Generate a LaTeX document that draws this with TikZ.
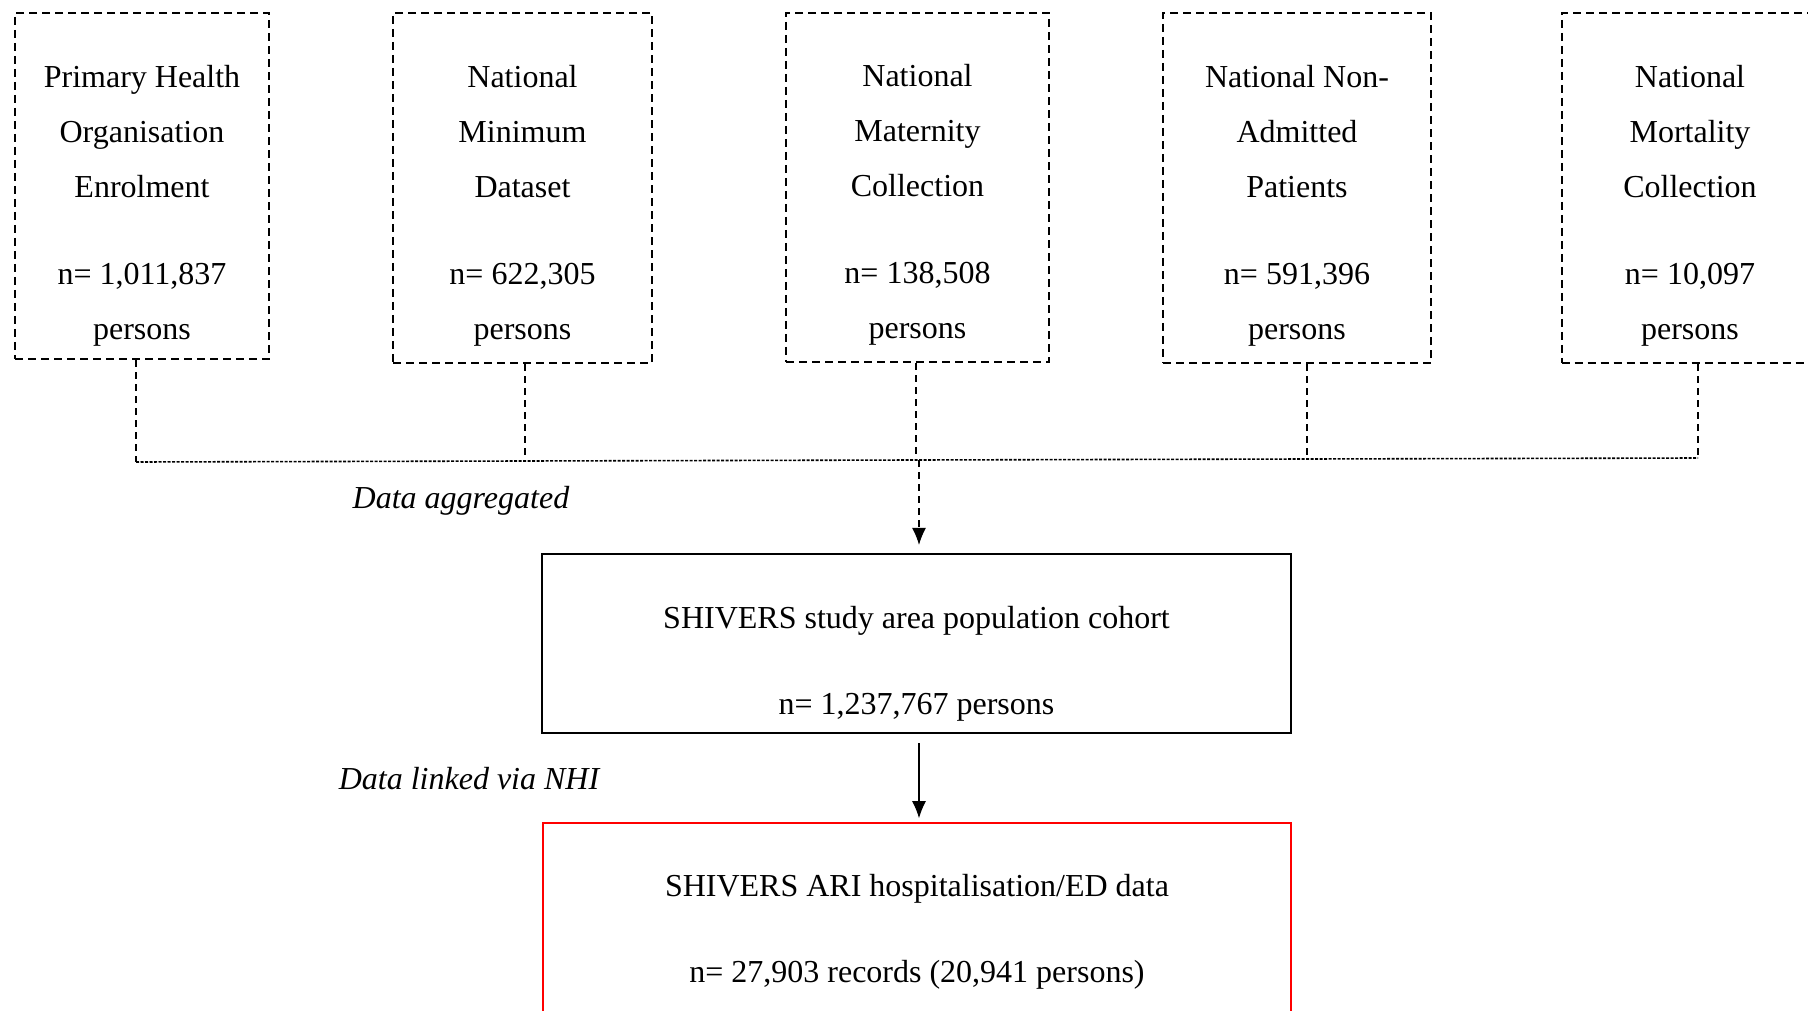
\documentclass[tikz,border=0pt]{standalone}
\usepackage{fontspec}
\setmainfont{Liberation Serif}
\usetikzlibrary{arrows.meta}
\begin{document}
\begin{tikzpicture}[x=1pt,y=-1pt,
  srcbox/.style={draw,line width=2pt,dash pattern=on 8pt off 5pt,rectangle,inner sep=0pt},
  txt/.style={align=center,font=\fontsize{32}{55}\selectfont,inner sep=0pt},
  lbl/.style={font=\fontsize{32}{55}\selectfont\itshape,inner sep=0pt},
  conn/.style={line width=1.2pt,dash pattern=on 7pt off 5pt},
  hline/.style={line width=1.6pt,dash pattern=on 3pt off 1.5pt},
  solidbox/.style={draw,line width=2.2pt,rectangle,inner sep=0pt},
  redbox/.style={draw=red,line width=1.6pt,rectangle,inner sep=0pt,align=center,font=\fontsize{32}{55}\selectfont},
  tip/.style={-{Latex[length=17pt,width=14pt]}}
]
\useasboundingbox (0,0) rectangle (1808,1011);
\clip (0,0) rectangle (1808,1011);
\fill[white] (0,0) rectangle (1808,1011);

% source boxes
\node[srcbox,minimum width=254pt,minimum height=346pt] (b1) at (142,186) {};
\node[srcbox,minimum width=259pt,minimum height=350pt] (b2) at (522.5,188) {};
\node[srcbox,minimum width=263pt,minimum height=349pt] (b3) at (917.5,187.5) {};
\node[srcbox,minimum width=268pt,minimum height=350pt] (b4) at (1297,188) {};
\node[srcbox,minimum width=257pt,minimum height=350pt] (b5) at (1690,188) {};

\node[txt] (t1) at (142,205.5) {Primary Health\\Organisation\\Enrolment\\[32pt]n= 1,011,837\\persons};
\node[txt] (t2) at (522.5,205.5) {National\\Minimum\\Dataset\\[32pt]n= 622,305\\persons};
\node[txt] (t3) at (917.5,204.5) {National\\Maternity\\Collection\\[32pt]n= 138,508\\persons};
\node[txt] (t4) at (1297,205.5) {National Non-\\Admitted\\Patients\\[32pt]n= 591,396\\persons};
\node[txt] (t5) at (1690,205.5) {National\\Mortality\\Collection\\[32pt]n= 10,097\\persons};

% cohort box
\node[solidbox,minimum width=749pt,minimum height=179pt] (c) at (916.5,643.5) {};
\node[txt] (tc) at (916.5,664) {SHIVERS study area population cohort\\[31pt]n= 1,237,767 persons};

% result box (cut off by the page edge)
\node[redbox,minimum width=748pt,minimum height=217pt] (r) at (917,931.5) {SHIVERS ARI hospitalisation/ED data\\[31pt]n= 27,903 records (20,941 persons)};

% labels
\node[lbl] (la) at (461,501) {Data aggregated};
\node[lbl] (lb) at (469,779) {Data linked via NHI};

% aggregation connectors
\coordinate (h1) at (136,462);
\coordinate (h2) at (525,461);
\coordinate (h3) at (916,460);
\coordinate (h4) at (1307,459);
\coordinate (h5) at (1698,458);
\draw[conn] (h1 |- b1.south) -- (h1);
\draw[conn] (h2 |- b2.south) -- (h2);
\draw[conn] (h3 |- b3.south) -- (h3);
\draw[conn] (h4 |- b4.south) -- (h4);
\draw[conn] (h5 |- b5.south) -- (h5);
\draw[hline] (h1) -- (h2) -- (h3) -- (h4) -- (h5);
\draw[conn,tip] ([xshift=3pt]h3) -- ([xshift=3pt,yshift=8pt]h3 |- c.north);

% linking arrow
\draw[line width=1.2pt,tip] ([xshift=2.5pt,yshift=-9pt]c.south) -- ([xshift=2pt,yshift=4pt]r.north);
\end{tikzpicture}
\end{document}
